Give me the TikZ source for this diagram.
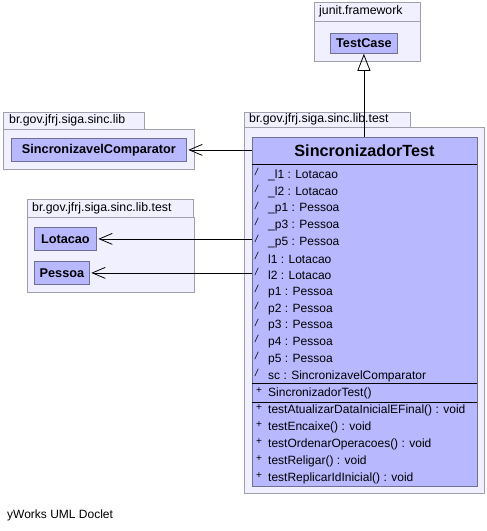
\documentclass[tikz,border=0pt]{standalone}
\usepackage{fontspec}
\setmainfont{Liberation Sans}
\usetikzlibrary{arrows.meta}
\definecolor{pkgfill}{RGB}{240,240,255}
\definecolor{pkgline}{RGB}{160,160,172}
\definecolor{clsfill}{RGB}{184,184,255}
\definecolor{clsline}{RGB}{112,112,150}
\tikzset{
  pkgtab/.style={draw=pkgline, fill=pkgfill, anchor=north west, inner sep=0pt, line width=0.8pt},
  pkgbody/.style={draw=pkgline, fill=pkgfill, anchor=north west, inner sep=0pt, line width=0.8pt},
  pkglabel/.style={anchor=west, inner sep=0pt, font=\fontsize{12.3}{14}\selectfont},
  clsbox/.style={draw=clsline, fill=clsfill, anchor=north west, inner sep=0pt, line width=0.8pt,
     font=\fontsize{12.7}{14}\selectfont\bfseries},
  member/.style={anchor=west, inner sep=0pt, font=\fontsize{12}{13}\selectfont},
  marker/.style={anchor=center, inner sep=0pt, font=\fontsize{10}{11}\selectfont},
  dep/.style={draw=black, line width=0.8pt, -{Straight Barb[length=13pt,width=11pt,line width=0.8pt]}, shorten >=1.5pt},
  inherit/.style={draw=black, line width=0.8pt, -{Triangle[open,length=17pt,width=13pt,line width=0.8pt]}},
}
\begin{document}
\begin{tikzpicture}[x=1pt,y=-1pt]
\useasboundingbox (0,0) rectangle (487,531);
\fill[white] (0,0) rectangle (487,531);

% junit.framework package
\node[pkgtab, minimum width=106pt, minimum height=19pt] (p1tab) at (314,2) {};
\node[pkglabel] (p1lab) at (319,11.5) {junit.framework};
\node[pkgbody, minimum width=106pt, minimum height=40pt] (p1body) at (314,21) {};
\node[clsbox, minimum width=67pt, minimum height=20pt] (testcase) at (330,33) {TestCase};

% br.gov.jfrj.siga.sinc.lib package
\node[pkgtab, minimum width=141pt, minimum height=17pt] (p2tab) at (3,112) {};
\node[pkglabel] (p2lab) at (9,120.5) {br.gov.jfrj.siga.sinc.lib};
\node[pkgbody, minimum width=191pt, minimum height=40pt] (p2body) at (3,129) {};
\node[clsbox, minimum width=175pt, minimum height=23pt] (sc) at (11,138) {SincronizavelComparator};

% br.gov.jfrj.siga.sinc.lib.test package (left)
\node[pkgtab, minimum width=166pt, minimum height=18pt] (p3tab) at (27,199) {};
\node[pkglabel] (p3lab) at (32,208) {br.gov.jfrj.siga.sinc.lib.test};
\node[pkgbody, minimum width=167pt, minimum height=75pt] (p3body) at (27,217) {};
\node[clsbox, minimum width=62pt, minimum height=23pt] (lot) at (34,227) {Lotacao};
\node[clsbox, minimum width=55pt, minimum height=23pt] (pes) at (34,261) {Pessoa};

% br.gov.jfrj.siga.sinc.lib.test package (right)
\node[pkgtab, minimum width=166pt, minimum height=15pt] (p4tab) at (244,112) {};
\node[pkglabel] (p4lab) at (249,119.5) {br.gov.jfrj.siga.sinc.lib.test};
\node[pkgbody, minimum width=240pt, minimum height=366pt] (p4body) at (244,127) {};

% SincronizadorTest class
\node[clsbox, minimum width=225pt, minimum height=349pt] (st) at (252,137) {};
\node[anchor=center, inner sep=0pt, font=\fontsize{16.2}{18}\selectfont\bfseries] (sttitle) at (364.5,151) {SincronizadorTest};
\draw[black, line width=0.8pt] (252,164) -- (477,164);
\draw[black, line width=0.8pt] (252,383) -- (477,383);
\draw[black, line width=0.8pt] (252,402) -- (477,402);

\foreach \t [count=\i from 0] in {\_l1 : Lotacao, \_l2 : Lotacao, \_p1 : Pessoa, \_p3 : Pessoa, \_p5 : Pessoa, l1 : Lotacao, l2 : Lotacao, p1 : Pessoa, p2 : Pessoa, p3 : Pessoa, p4 : Pessoa, p5 : Pessoa, sc : SincronizavelComparator}{
  \node[marker] (am\i) at (256.5,{172+16.73*\i}) {\itshape /};
  \node[member] (a\i) at (268,{175.3+16.73*\i}) {\t};
}
\node[marker] (cm) at (259,390.5) {+};
\node[member] (c0) at (268,393) {SincronizadorTest()};
\foreach \t [count=\i from 0] in {testAtualizarDataInicialEFinal() : void, testEncaixe() : void, testOrdenarOperacoes() : void, testReligar() : void, testReplicarIdInicial() : void}{
  \node[marker] (mm\i) at (259,{407.5+17*\i}) {+};
  \node[member] (m\i) at (268,{410+17*\i}) {\t};
}

% connectors
\draw[inherit] (st.north -| testcase.south) -- (testcase.south);
\draw[dep] (st.west |- sc.east) -- (sc.east);
\draw[dep] (st.west |- lot.east) -- (lot.east);
\draw[dep] (st.west |- pes.east) -- (pes.east);

\node[anchor=west, inner sep=0pt, font=\fontsize{12}{13}\selectfont] (footer) at (7,515) {yWorks UML Doclet};
\end{tikzpicture}
\end{document}
